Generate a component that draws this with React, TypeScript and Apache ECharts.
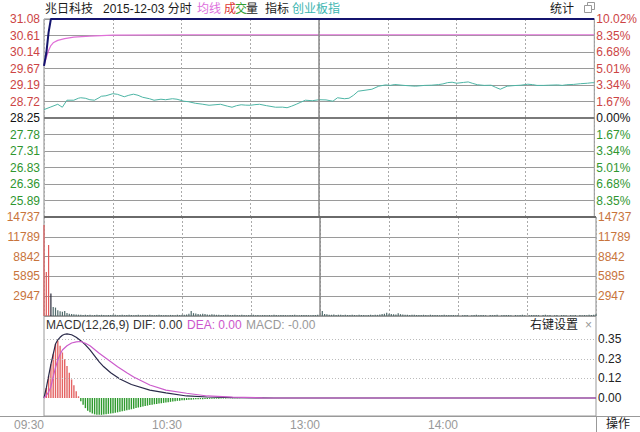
import React, { useEffect, useRef } from 'react';
import * as echarts from 'echarts';

// ---------- data ----------
const prevClose = 28.25;
const priceAxisLabels = ['', '25.89', '26.36', '26.83', '27.31', '27.78', '28.25', '28.72', '29.19', '29.67', '30.14', '30.61', '31.08'];
const pctAxisLabels = ['', '8.35%', '6.68%', '5.01%', '3.34%', '1.67%', '0.00%', '1.67%', '3.34%', '5.01%', '6.68%', '8.35%', '10.02%'];
const volAxisLabels = ['', '2947', '5895', '8842', '11789', '14737'];
const macdTickValues = [0, 0.1167, 0.2333, 0.35];
const macdAxisLabels = ['0.00', '0.12', '0.23', '0.35'];
const timeLabels = ['09:30', '10:30', '13:00', '14:00', ''];

// [minute index, price]
const priceLine = [[0, 29.74], [1, 30.1], [2, 30.7], [3, 31.08], [240, 31.08]];
const avgLine = [[0, 29.74], [1, 29.98], [2, 30.18], [3, 30.32], [4, 30.4], [6, 30.47], [9, 30.52], [13, 30.56], [20, 30.59], [30, 30.62], [60, 30.63], [120, 30.63], [240, 30.63]];
// 创业板指 overlay, [minute index, % change]
const indexPct = [
  [0, 0.85], [3, 1.12], [6, 1.39], [8, 1.09], [10, 1.8], [13, 1.8], [15, 2.0], [16, 2.05], [18, 2.0], [20, 1.85], [22, 1.8],
  [24, 2.05], [25, 2.2], [27, 2.25], [30, 2.46], [32, 2.4], [35, 2.15], [37, 2.3], [39, 2.41], [41, 2.3], [43, 2.1],
  [46, 1.95], [48, 1.8], [51, 1.9], [53, 1.85], [56, 1.95], [58, 1.9], [61, 1.7], [63, 1.65], [66, 1.49], [69, 1.4],
  [72, 1.29], [75, 1.35], [77, 1.39], [80, 1.2], [82, 1.09], [84, 1.25], [86, 1.34], [88, 1.3], [90, 1.29], [92, 1.35],
  [94, 1.39], [97, 1.25], [101, 1.09], [104, 1.1], [106, 1.04], [108, 1.2], [110, 1.39], [112, 1.6], [114, 1.8], [117, 1.75],
  [120, 1.85], [123, 1.83], [126, 1.7], [128, 2.05], [131, 1.95], [133, 2.0], [135, 2.3], [137, 2.71], [140, 2.81],
  [143, 2.91], [146, 3.22], [149, 3.35], [151, 3.3], [153, 3.39], [157, 3.3], [160, 3.25], [162, 3.22], [166, 3.3],
  [169, 3.32], [172, 3.38], [174, 3.45], [176, 3.58], [178, 3.62], [180, 3.52], [183, 3.6], [185, 3.65], [187, 3.5],
  [189, 3.37], [192, 3.3], [195, 3.32], [197, 3.1], [199, 2.91], [202, 3.22], [205, 3.28], [208, 3.32], [211, 3.42],
  [213, 3.38], [215, 3.3], [218, 3.3], [220, 3.32], [224, 3.35], [226, 3.3], [228, 3.37], [231, 3.4], [234, 3.47],
  [237, 3.52], [239, 3.57], [240, 3.57],
];

// volume: first bars (rising, red) then unchanged-price bars (dark)
const volUp = [13550, 6550, 10570];
const volFlat = [
  3350, 1350, 1250, 850, 700, 650, 750, 450, 350, 300, 250, 220,
  200, 180, 160, 200, 150, 180, 120, 160, 200, 140,
  180, 150, 120, 160, 140, 180, 200, 120, 150, 170,
  130, 160, 190, 140, 120, 150, 180, 130, 160, 140,
  120, 170, 150, 130, 160, 190, 140, 120, 150, 130,
  160, 140, 120, 180, 150, 200, 170, 220, 350, 750,
  420, 380, 300, 260, 320, 280, 240, 200, 260, 220,
  180, 200, 160, 150, 190, 170, 140, 160, 180, 150,
  130, 170, 150, 120, 160, 140, 180, 130, 150, 120,
  140, 160, 120, 150, 130, 170, 140, 120, 160, 150,
  130, 120, 150, 140, 170, 130, 120, 160, 140, 150,
  130, 120, 160, 140, 180, 200,
  750, 300, 250, 200, 180, 220, 160, 200, 180, 150,
  170, 140, 160, 190, 150, 130, 170, 160, 140, 120,
  150, 180, 160, 200, 170, 220, 280, 320, 500, 350,
  300, 260, 240, 400, 280, 220, 200, 180, 160, 190,
  170, 150, 140, 160, 180, 150, 130, 170, 140, 160,
  150, 120, 140, 170, 130, 150, 160, 140, 120, 150,
  0, 130, 160, 140, 0, 120, 150, 170, 130, 140,
  160, 120, 0, 150, 130, 140, 170, 0, 120, 150,
  140, 160, 130, 0, 150, 120, 140, 170, 130, 0,
  120, 150, 160, 140, 130, 0, 150, 170, 120, 140,
  0, 130, 150, 0, 140, 160, 120, 0, 150, 130,
  140, 0, 160, 120, 150, 130, 170, 140, 200, 260,
];

// MACD histogram from 09:30, one value per minute
const macdHist = [
  0, 0.06, 0.13, 0.2, 0.26, 0.32, 0.34, 0.31, 0.27, 0.23, 0.19, 0.15, 0.11, 0.075, 0.04, 0.01,
  -0.02, -0.04, -0.06, -0.075, -0.085, -0.092, -0.097, -0.1, -0.1, -0.1,
  -0.098, -0.096, -0.094, -0.092, -0.09, -0.087, -0.085, -0.082, -0.079, -0.076,
  -0.073, -0.07, -0.067, -0.064, -0.06, -0.057, -0.054, -0.05, -0.048, -0.045,
  -0.042, -0.04, -0.037, -0.035, -0.033, -0.031, -0.029, -0.027, -0.025, -0.023,
  -0.021, -0.019, -0.017, -0.016, -0.014, -0.013, -0.012, -0.011, -0.01, -0.009,
  -0.008, -0.008, -0.007, -0.007, -0.006, -0.006, -0.005, -0.005, -0.004, -0.004,
  -0.004, -0.003, -0.003, -0.003, -0.002, -0.002, -0.002, -0.002, -0.001, -0.001,
];
const difLine = [
  [0, 0], [1, 0.06], [2, 0.13], [3, 0.2], [4, 0.26], [5, 0.32], [6, 0.345], [7, 0.36], [8, 0.372], [9, 0.378], [10, 0.38],
  [12, 0.375], [14, 0.36], [16, 0.34], [18, 0.315], [20, 0.285], [22, 0.25], [24, 0.214], [26, 0.185], [29, 0.15],
  [33, 0.113], [38, 0.08], [46, 0.047], [53, 0.03], [62, 0.012], [71, 0.006], [82, 0.002], [100, 0], [240, 0],
];
const deaLine = [
  [0, 0], [1, 0.015], [2, 0.035], [3, 0.067], [4, 0.125], [5, 0.18], [6, 0.225], [7, 0.26], [8, 0.285], [10, 0.31],
  [12, 0.326], [14, 0.333], [16, 0.335], [18, 0.325], [20, 0.31], [24, 0.265], [28, 0.225], [32, 0.185], [36, 0.15],
  [39, 0.125], [46, 0.077], [53, 0.047], [62, 0.028], [71, 0.012], [82, 0.005], [95, 0.001], [110, 0], [240, 0],
];

// ---------- styles ----------
const FONT = '"Liberation Sans", Arial, "Noto Sans CJK SC", sans-serif';
const RED = '#cc4444';
const GREEN = '#2f962f';
const ORANGE = '#c8743c';
const GRID_GRAY = '#9a9a9a';

const toPct = (p: number) => (p / prevClose - 1) * 100;
const pctIdx = (v: number) => Math.round((v + 10.02) / 1.67);
const signColor = (v: number) => (v > 0.01 ? RED : v < -0.01 ? GREEN : '#111');
const nearestIdx = (arr: number[], v: number) => {
  let best = 0;
  arr.forEach((a, i) => { if (Math.abs(a - v) < Math.abs(arr[best] - v)) best = i; });
  return best;
};

export default function App() {
  const ref = useRef<HTMLDivElement>(null);
  useEffect(() => {
    if (!ref.current) return;
    const chart = echarts.init(ref.current, undefined, { renderer: 'svg' });

    const volData = [
      ...volUp.map((v, i) => ({ value: [i, v], itemStyle: { color: '#e05a5a' } })),
      ...volFlat.map((v, i) => ({ value: [i + volUp.length, v], itemStyle: { color: i === 0 ? '#2a2a3a' : '#4f6a6a' } })),
    ];
    const histData = macdHist.map((v, i) => ({ value: [i, v], itemStyle: { color: v >= 0 ? '#e46464' : '#2e9a2e' } }));

    const txt = (text: string, x: number, y: number, fill: string, align = 'left', size = 12) => ({
      type: 'text', x, y, silent: true,
      style: { text, fill, font: `${size}px ${FONT}`, textAlign: align, textVerticalAlign: 'middle' },
    });

    const option: any = {
      animation: false,
      textStyle: { fontFamily: FONT },
      grid: [
        { left: 44, width: 552, top: 19, height: 198, show: true, borderColor: '#888', borderWidth: 1 },
        { left: 44, width: 552, top: 217, height: 99, show: true, borderColor: '#888', borderWidth: 1 },
        { left: 44, width: 552, top: 316, height: 100, show: true, borderColor: '#999', borderWidth: 1 },
      ],
      xAxis: [0, 1].map((g) => ({
        type: 'value', gridIndex: g, min: 0, max: 240, interval: 30,
        axisLine: { show: false }, axisTick: { show: false }, axisLabel: { show: false },
        splitLine: { show: true, lineStyle: { color: '#aaa', type: [2, 2], width: 1 } },
      })).concat([{
        type: 'value', gridIndex: 2, min: 0, max: 240, interval: 60,
        axisLine: { show: false }, axisTick: { show: false }, splitLine: { show: false },
        axisLabel: {
          show: true, margin: 3, align: 'right', color: '#999', fontSize: 12, fontFamily: FONT,
          showMaxLabel: false,
          formatter: (v: number) => timeLabels[Math.round(v / 60)] || '',
        },
      } as any]),
      yAxis: [
        {
          type: 'value', gridIndex: 0, position: 'left', min: -10.02, max: 10.02, interval: 1.67,
          axisLine: { show: false }, axisTick: { show: false },
          splitLine: { show: true, lineStyle: { color: GRID_GRAY, width: 1 } },
          axisLabel: {
            margin: 4, fontSize: 12, fontFamily: FONT,
            formatter: (v: number) => priceAxisLabels[pctIdx(v)] || '',
            color: (v: any) => signColor(Number(v)),
          },
        },
        {
          type: 'value', gridIndex: 0, position: 'right', min: -10.02, max: 10.02, interval: 1.67,
          axisLine: { show: false }, axisTick: { show: false }, splitLine: { show: false },
          axisLabel: {
            margin: 2, fontSize: 12, fontFamily: FONT,
            formatter: (v: number) => pctAxisLabels[pctIdx(v)] || '',
            color: (v: any) => signColor(Number(v)),
          },
        },
        {
          type: 'value', gridIndex: 1, position: 'left', min: 0, max: 14737, interval: 2947.4,
          axisLine: { show: false }, axisTick: { show: false },
          splitLine: { show: true, lineStyle: { color: GRID_GRAY, width: 1 } },
          axisLabel: {
            margin: 4, fontSize: 12, fontFamily: FONT, color: ORANGE,
            formatter: (v: number) => volAxisLabels[Math.round(v / 2947.4)] || '',
          },
        },
        {
          type: 'value', gridIndex: 1, position: 'right', min: 0, max: 14737, interval: 2947.4,
          axisLine: { show: false }, axisTick: { show: false }, splitLine: { show: false },
          axisLabel: {
            margin: 2, fontSize: 12, fontFamily: FONT, color: ORANGE,
            formatter: (v: number) => volAxisLabels[Math.round(v / 2947.4)] || '',
          },
        },
        {
          type: 'value', gridIndex: 2, position: 'right', min: -0.1068, max: 0.4864,
          axisLine: { show: false },
          axisTick: { show: false, customValues: macdTickValues },
          splitLine: { show: false },
          axisLabel: {
            margin: 2, fontSize: 12, fontFamily: FONT, color: '#222',
            customValues: macdTickValues,
            formatter: (v: number) => macdAxisLabels[nearestIdx(macdTickValues, v)],
          },
        },
      ],
      series: [
        {
          type: 'line', xAxisIndex: 0, yAxisIndex: 1, data: indexPct, symbol: 'none', clip: false,
          lineStyle: { color: '#4db5a5', width: 1 }, z: 3,
        },
        {
          type: 'line', xAxisIndex: 0, yAxisIndex: 0, data: avgLine.map(([m, p]) => [m, toPct(p)]), symbol: 'none', clip: false,
          lineStyle: { color: '#e070d8', width: 1.2 }, z: 4,
        },
        {
          type: 'line', xAxisIndex: 0, yAxisIndex: 0, data: priceLine.map(([m, p]) => [m, toPct(p)]), symbol: 'none', clip: false,
          lineStyle: { color: '#14146e', width: 2 }, z: 5,
          markLine: {
            silent: true, symbol: 'none', label: { show: false },
            data: [
              { xAxis: 120, lineStyle: { color: '#888', type: 'solid', width: 1.5 } },
              { yAxis: 0, lineStyle: { color: '#7a7a7a', type: 'solid', width: 2 } },
            ],
          },
        },
        {
          type: 'bar', xAxisIndex: 1, yAxisIndex: 2, data: volData, barWidth: 1.2,
          markLine: {
            silent: true, symbol: 'none', label: { show: false },
            data: [
              { xAxis: 120, lineStyle: { color: '#888', type: 'solid', width: 1.5 } },
              { yAxis: 14737, lineStyle: { color: '#6a6a6a', type: 'solid', width: 2 } },
            ],
          },
        },
        {
          type: 'bar', xAxisIndex: 2, yAxisIndex: 4, data: histData, barWidth: 1.4,
          markLine: {
            silent: true, symbol: 'none', label: { show: false },
            lineStyle: { color: '#bbb', type: [1, 2], width: 1 },
            data: macdTickValues.slice(1).map((v) => ({ yAxis: v })),
          },
        },
        {
          type: 'line', xAxisIndex: 2, yAxisIndex: 4, data: difLine, symbol: 'none',
          lineStyle: { color: '#2a2a4a', width: 1.2 }, z: 4,
        },
        {
          type: 'line', xAxisIndex: 2, yAxisIndex: 4, data: deaLine, symbol: 'none',
          lineStyle: { color: '#cc5ccc', width: 1.2 }, z: 5,
        },
      ],
      graphic: [
        txt('兆日科技', 45, 9, '#1a1a1a'),
        txt('2015-12-03 分时', 103, 9, '#1a1a1a'),
        txt('均线', 197, 9, '#dd70dd'),
        txt('成', 224, 9, '#dd3333'),
        txt('交', 235, 9, '#33a033'),
        txt('量', 246, 9, '#1a1a1a'),
        txt('指标', 265, 9, '#1a1a1a'),
        txt('创业板指', 292, 9, '#3bb5b0'),
        txt('统计', 550, 9, '#1a1a1a'),
        { type: 'rect', shape: { x: 587.5, y: 2.5, width: 7, height: 7 }, style: { fill: '#fff', stroke: '#999', lineWidth: 1 } },
        { type: 'rect', shape: { x: 584.5, y: 5.5, width: 7, height: 7 }, style: { fill: '#fff', stroke: '#999', lineWidth: 1 } },
        txt('MACD(12,26,9)', 46, 325, '#333'),
        txt('DIF: 0.00', 133, 325, '#333'),
        txt('DEA: 0.00', 187, 325, '#cc55cc'),
        txt('MACD: -0.00', 246, 325, '#999'),
        txt('右键设置', 530, 325, '#222'),
        txt('×', 585, 325, '#999'),
        { type: 'line', shape: { x1: 0, y1: 416.5, x2: 640, y2: 416.5 }, style: { stroke: '#999', lineWidth: 1 } },
        { type: 'line', shape: { x1: 596.5, y1: 416, x2: 596.5, y2: 432 }, style: { stroke: '#999', lineWidth: 1 } },
        txt('操作', 606, 424, '#1a1a1a'),
      ],
    };
    chart.setOption(option);
    return () => chart.dispose();
  }, []);
  return <div ref={ref} style={{ position: 'fixed', left: 0, top: 0, width: 640, height: 432, background: '#fff' }} />;
}
